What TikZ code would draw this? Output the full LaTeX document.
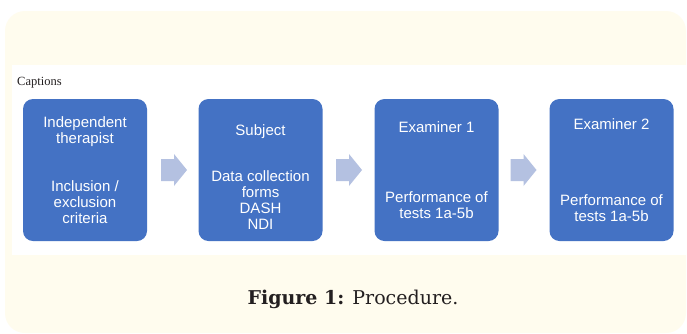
\documentclass[tikz,border=0pt]{standalone}
\usepackage{fontspec}
\setmainfont{Liberation Sans}
\newfontfamily\capfont{DejaVu Serif}
\newfontfamily\smallcapfont{Liberation Serif}
\definecolor{cream}{HTML}{FFFCEE}
\definecolor{boxblue}{HTML}{4472C4}
\definecolor{arrowblue}{HTML}{B4C1E1}
\definecolor{captext}{HTML}{231F20}
\begin{document}
\begin{tikzpicture}[x=1pt,y=-1pt,
  stagebox/.style={fill=boxblue,draw=none,rounded corners=10pt,minimum width=124pt,minimum height=142pt,inner sep=0pt},
  lbl/.style={text=white,font=\fontsize{15}{16}\selectfont,align=center,inner sep=0pt,anchor=base},
  flowarrow/.style={fill=arrowblue,draw=none}]
\useasboundingbox (0,0) rectangle (687,333);
\fill[white] (0,0) rectangle (687,333);
\fill[cream,rounded corners=20pt] (5,11) rectangle (686,333);
\fill[white] (12,65) rectangle (687,255);
\node[anchor=base west,inner sep=0pt,font=\smallcapfont\fontsize{12.5}{14}\selectfont,text=captext] (cap) at (17,85) {Captions};
% boxes
\node[stagebox] (b1) at (85,170) {};
\node[stagebox] (b2) at (260.5,170) {};
\node[stagebox] (b3) at (436.5,170) {};
\node[stagebox] (b4) at (611.5,170) {};
% labels (anchor = baseline of last line)
\node[lbl] (t1a) at (85,143) {Independent\\therapist};
\node[lbl] (t1b) at (85,223) {Inclusion /\\exclusion\\criteria};
\node[lbl] (t2a) at (260.5,135) {Subject};
\node[lbl] (t2b) at (260.5,229) {Data collection\\forms\\DASH\\NDI};
\node[lbl] (t3a) at (436.5,132) {Examiner 1};
\node[lbl] (t3b) at (436.5,218) {Performance of\\tests 1a-5b};
\node[lbl] (t4a) at (611.5,129) {Examiner 2};
\node[lbl] (t4b) at (611.5,221) {Performance of\\tests 1a-5b};
% arrows
\foreach \cx in {174,349,523.5}{
  \fill[flowarrow] (\cx-13,159) -- (\cx,159) -- (\cx,154) -- (\cx+13,170) -- (\cx,186) -- (\cx,181) -- (\cx-13,181) -- cycle;
}
\node[inner sep=0pt,text=captext,font=\capfont\fontsize{19}{22}\selectfont] (fig) at (353,299) {\textbf{Figure 1:} Procedure.};
\end{tikzpicture}
\end{document}
